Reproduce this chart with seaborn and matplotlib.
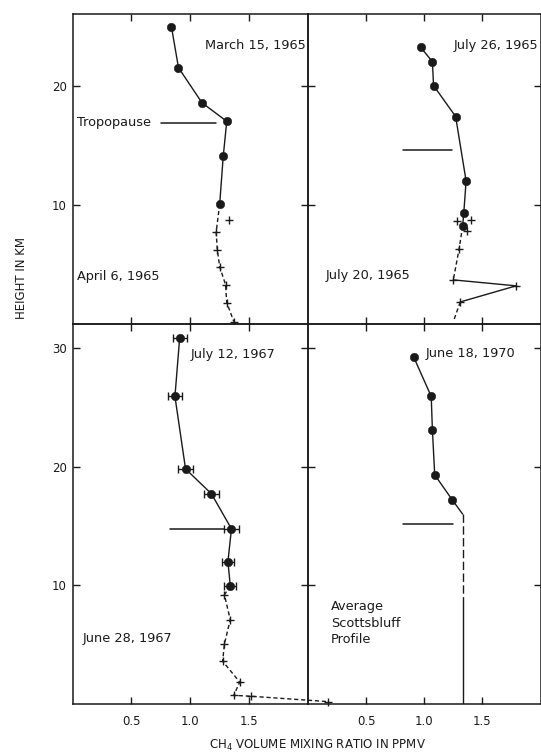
import numpy as np
import pandas as pd
import matplotlib
matplotlib.use("Agg")
import matplotlib.pyplot as plt
import seaborn as sns

# ---- March 15, 1965 (balloon, filled circles) ----
mar65_x = [0.84, 0.90, 1.10, 1.31, 1.28, 1.25]
mar65_h = [24.95, 21.5, 18.55, 17.0, 14.05, 10.06]
# ---- April 6, 1965 (aircraft, crosses) ----
apr65_x = [1.33, 1.22, 1.23, 1.25, 1.30, 1.31, 1.37]
apr65_h = [8.72, 7.7, 6.2, 4.8, 3.3, 1.8, 0.2]

# ---- July 26, 1965 (circles) ----
jul26_x = [0.97, 1.07, 1.08, 1.27, 1.36, 1.34, 1.33]
jul26_h = [23.2, 22.0, 20.0, 17.4, 12.0, 9.3, 8.2]
# ---- July 20, 1965 (crosses) ----
jul20_x = [1.28, 1.40, 1.37, 1.30, 1.25, 1.79, 1.31, 1.25]
jul20_h = [8.6, 8.75, 7.8, 6.3, 3.7, 3.2, 1.85, 0.2]

# ---- July 12, 1967 (circles with error bars) ----
jul67_x = [0.91, 0.87, 0.96, 1.18, 1.35, 1.32, 1.34]
jul67_h = [30.8, 25.9, 19.8, 17.7, 14.75, 12.0, 9.95]
jul67_err = [0.06, 0.06, 0.06, 0.06, 0.06, 0.05, 0.05]
# ---- June 28, 1967 (crosses) ----
jun67_x = [1.29, 1.34, 1.29, 1.275, 1.42, 1.37, 1.52, 2.17]
jun67_h = [9.2, 7.1, 5.05, 3.6, 1.85, 0.73, 0.65, 0.2]

# ---- June 18, 1970 (circles) ----
jun70_x = [0.91, 1.06, 1.07, 1.09, 1.24]
jun70_h = [29.2, 25.9, 23.1, 19.3, 17.2]
# ---- Average Scottsbluff profile ----
avg_x = [1.24, 1.33, 1.33, 1.33]
avg_h = [17.2, 16.0, 8.8, 0.0]

# ---- Tropopause heights (km) and line extents (ppmv) ----
trop_h = [16.9, 14.6, 14.7, 15.2]
trop_x0 = [0.75, 0.82, 0.83, 0.82]
trop_x1 = [1.22, 1.24, 1.29, 1.25]

x_ticks = [0.5, 1.0, 1.5]
x_ticklabels = ["0.5", "1.0", "1.5"]

sns.set_style("ticks")
plt.rcParams["font.family"] = ["DejaVu Sans"]
INK = "#1a1a1a"

fig = plt.figure(figsize=(5.41, 7.54), dpi=100)
W, H = 541.0, 754.0
xl, xm, xr = 72.5, 308.0, 540.5
yt, ym, yb = 14.0, 324.0, 704.0
ax_ul = fig.add_axes([xl / W, 1 - ym / H, (xm - xl) / W, (ym - yt) / H])
ax_ur = fig.add_axes([xm / W, 1 - ym / H, (xr - xm) / W, (ym - yt) / H])
ax_ll = fig.add_axes([xl / W, 1 - yb / H, (xm - xl) / W, (yb - ym) / H])
ax_lr = fig.add_axes([xm / W, 1 - yb / H, (xr - xm) / W, (yb - ym) / H])

LW = 1.0
MS_DOT = 38
MS_CROSS = 36


def line(ax, x, h, ls="-", clip=True):
    sns.lineplot(x=x, y=h, sort=False, estimator=None, ax=ax, color=INK,
                 lw=LW, linestyle=ls, clip_on=clip)


def dots(ax, x, h):
    sns.scatterplot(x=x, y=h, ax=ax, color=INK, s=MS_DOT, edgecolor=INK,
                    linewidth=0.3, zorder=4)


def crosses(ax, x, h, clip=True):
    sns.scatterplot(x=x, y=h, ax=ax, color=INK, marker="+", s=MS_CROSS,
                    linewidth=1.0, zorder=4, clip_on=clip)


# Upper left: March 15 / April 6, 1965
line(ax_ul, mar65_x, mar65_h)
dots(ax_ul, mar65_x, mar65_h)
line(ax_ul, [mar65_x[-1]] + apr65_x[1:], [mar65_h[-1]] + apr65_h[1:], ls=(0, (3, 2)))
crosses(ax_ul, apr65_x, apr65_h)

# Upper right: July 26 / July 20, 1965
line(ax_ur, jul26_x, jul26_h)
dots(ax_ur, jul26_x, jul26_h)
line(ax_ur, [jul26_x[-1], jul20_x[3], jul20_x[4]], [jul26_h[-1], jul20_h[3], jul20_h[4]], ls=(0, (3, 2)))
line(ax_ur, jul20_x[4:7], jul20_h[4:7])
line(ax_ur, jul20_x[6:], jul20_h[6:], ls=(0, (3, 2)))
crosses(ax_ur, jul20_x[:-1], jul20_h[:-1])

# Lower left: July 12 / June 28, 1967
line(ax_ll, jul67_x, jul67_h)
ax_ll.errorbar(jul67_x, jul67_h, xerr=jul67_err, fmt="none", ecolor=INK,
               elinewidth=1.0, capsize=3.0, capthick=1.0, zorder=3)
dots(ax_ll, jul67_x, jul67_h)
line(ax_ll, [jul67_x[-1]] + jun67_x, [jul67_h[-1]] + jun67_h, ls=(0, (3, 2)), clip=False)
crosses(ax_ll, jun67_x, jun67_h, clip=False)

# Lower right: June 18, 1970 and average Scottsbluff profile
line(ax_lr, jun70_x, jun70_h)
dots(ax_lr, jun70_x, jun70_h)
line(ax_lr, avg_x[:2], avg_h[:2])
line(ax_lr, avg_x[1:3], avg_h[1:3], ls=(0, (6, 2.5)))
line(ax_lr, avg_x[2:], avg_h[2:])

# Tropopause markers
for ax, h, x0, x1 in zip([ax_ul, ax_ur, ax_ll, ax_lr], trop_h, trop_x0, trop_x1):
    ax.plot([x0, x1], [h, h], color=INK, lw=1.1)

# Annotations
TS = 9.3
ax_ul.text(0.04, trop_h[0], "Tropopause", fontsize=TS, va="center", ha="left", color=INK)
ax_ul.text(1.98, 23.4, "March 15, 1965", fontsize=TS, va="center", ha="right", color=INK)
ax_ul.text(0.04, 4.0, "April 6, 1965", fontsize=TS, va="center", ha="left", color=INK)
ax_ur.text(1.98, 23.4, "July 26, 1965", fontsize=TS, va="center", ha="right", color=INK)
ax_ur.text(0.15, 4.1, "July 20, 1965", fontsize=TS, va="center", ha="left", color=INK)
ax_ll.text(1.0, 29.4, "July 12, 1967", fontsize=TS, va="center", ha="left", color=INK)
ax_ll.text(0.09, 5.5, "June 28, 1967", fontsize=TS, va="center", ha="left", color=INK)
ax_lr.text(1.01, 29.5, "June 18, 1970", fontsize=TS, va="center", ha="left", color=INK)
ax_lr.text(0.2, 6.8, "Average\nScottsbluff\nProfile", fontsize=TS, va="center",
           ha="left", color=INK, linespacing=1.35)

# Axes styling
for ax, top in [(ax_ul, True), (ax_ur, True), (ax_ll, False), (ax_lr, False)]:
    ax.set_xlim(0, 2.0)
    if top:
        ax.set_ylim(0, 26)
        ax.set_yticks([10, 20])
    else:
        ax.set_ylim(0, 32)
        ax.set_yticks([10, 20, 30])
    ax.set_xticks(x_ticks)
    ax.tick_params(direction="in", length=5, width=1.0, color=INK,
                   top=True, bottom=True, left=True, right=True,
                   labelsize=8.5, labelcolor=INK, pad=4)
    for sp in ax.spines.values():
        sp.set_visible(True)
        sp.set_color(INK)
        sp.set_linewidth(1.1)
    ax.set_xlabel("")
    ax.set_ylabel("")
    ax.set_facecolor("none")

for ax in [ax_ul, ax_ur]:
    ax.set_xticklabels([])
for ax in [ax_ur, ax_lr]:
    ax.set_yticklabels([])
for ax in [ax_ll, ax_lr]:
    ax.set_xticklabels(x_ticklabels)
    ax.tick_params(axis="x", pad=8)

fig.text(22 / W, 1 - 278 / H, "HEIGHT IN KM", rotation=90, ha="center",
         va="center", fontsize=8.5, color=INK)
fig.text(318 / W, 1 - 745 / H, r"CH$_4$ VOLUME MIXING RATIO IN PPMV",
         ha="center", va="center", fontsize=8.5, color=INK)

fig.savefig("out.png", dpi=100, facecolor="white")
